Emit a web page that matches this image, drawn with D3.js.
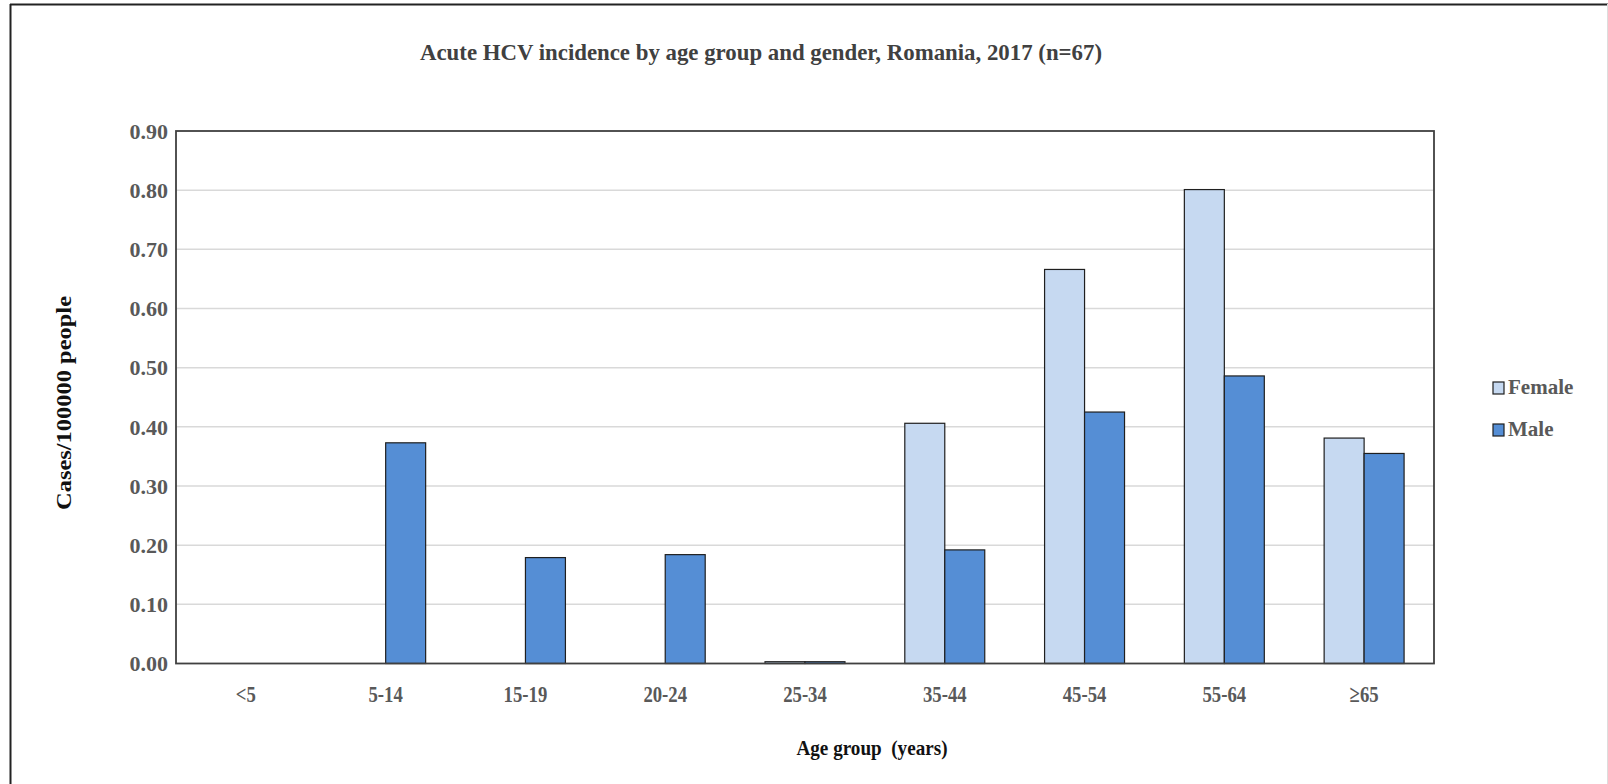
<!DOCTYPE html>
<html>
<head>
<meta charset="utf-8">
<script src="https://cdn.jsdelivr.net/npm/d3@7"></script>
<style>
  html, body { margin: 0; padding: 0; background: #fff; }
  svg { display: block; }
  text { font-family: "Liberation Serif", "Times New Roman", serif; }
</style>
</head>
<body>
<svg id="chart" width="1608" height="784"></svg>
<script>
// Age groups on the x axis
const ageGroups = ["<5", "5-14", "15-19", "20-24", "25-34", "35-44", "45-54", "55-64", "\u226565"];
// Incidence per 100000 people
const female = [0, 0, 0, 0, 0.003, 0.406, 0.666, 0.801, 0.381];
const male   = [0, 0.373, 0.179, 0.184, 0.003, 0.192, 0.425, 0.486, 0.355];
const seriesNames = ["Female", "Male"];
const yTicks = [0, 0.1, 0.2, 0.3, 0.4, 0.5, 0.6, 0.7, 0.8, 0.9];

const colors = { Female: "#c6d9f1", Male: "#558ed5" };

const svg = d3.select("#chart");
const W = 1608, H = 784;
const plot = { left: 176, right: 1434, top: 131, bottom: 663.5 };

// outer frame lines
svg.append("line").attr("x1", 10).attr("x2", W).attr("y1", 4.5).attr("y2", 4.5)
  .attr("stroke", "#222").attr("stroke-width", 2);
svg.append("line").attr("x1", 10.5).attr("x2", 10.5).attr("y1", 4).attr("y2", H)
  .attr("stroke", "#222").attr("stroke-width", 2);
svg.append("line").attr("x1", W - 0.5).attr("x2", W - 0.5).attr("y1", 4).attr("y2", H)
  .attr("stroke", "#ddd").attr("stroke-width", 1);

const x0 = d3.scaleBand().domain(ageGroups)
  .range([plot.left, plot.right]).paddingInner(0.428).paddingOuter(0.214);
const x1 = d3.scaleBand().domain(seriesNames).range([0, x0.bandwidth()]);
const y = d3.scaleLinear().domain([0, 0.9]).range([plot.bottom, plot.top]);

// gridlines
svg.append("g")
  .selectAll("line").data(yTicks.slice(1, -1)).join("line")
  .attr("x1", plot.left).attr("x2", plot.right)
  .attr("y1", d => y(d)).attr("y2", d => y(d))
  .attr("stroke", "#d9d9d9").attr("stroke-width", 1.5);

// y tick labels
const yAxis = svg.append("g").attr("transform", `translate(${plot.left - 8},0)`)
  .call(d3.axisLeft(y).tickValues(yTicks).tickFormat(d3.format(".2f")).tickSize(0).tickPadding(0));
yAxis.select(".domain").remove();
yAxis.selectAll("text")
  .attr("font-family", "Liberation Serif").attr("font-weight", "bold")
  .attr("font-size", 22).attr("fill", "#595959").attr("dy", "0.33em");

// bars
const rows = ageGroups.map((g, i) => ({ group: g, values: [
  { key: "Female", value: female[i] }, { key: "Male", value: male[i] }] }));

svg.append("g").selectAll("g").data(rows).join("g")
  .attr("transform", d => `translate(${x0(d.group)},0)`)
  .selectAll("rect").data(d => d.values.filter(v => v.value > 0)).join("rect")
  .attr("x", d => x1(d.key))
  .attr("width", x1.bandwidth())
  .attr("y", d => y(d.value))
  .attr("height", d => Math.max(1.5, y(0) - y(d.value)))
  .attr("fill", d => colors[d.key])
  .attr("stroke", "#1f1f1f").attr("stroke-width", 1.2);

// plot border
svg.append("rect")
  .attr("x", plot.left).attr("y", plot.top)
  .attr("width", plot.right - plot.left).attr("height", plot.bottom - plot.top)
  .attr("fill", "none").attr("stroke", "#404040").attr("stroke-width", 1.8);

// x axis labels (condensed)
const xAxis = svg.append("g").attr("transform", `translate(0,${plot.bottom})`)
  .call(d3.axisBottom(x0).tickSize(0).tickPadding(0));
xAxis.select(".domain").remove();
xAxis.selectAll("text")
  .attr("font-family", "Liberation Serif").attr("font-weight", "bold")
  .attr("font-size", 24).attr("fill", "#595959")
  .attr("y", 0).attr("dy", 0)
  .attr("transform", "translate(0,38.5) scale(0.78,1)");

// title
svg.append("text")
  .attr("x", 761).attr("y", 60).attr("text-anchor", "middle")
  .attr("font-size", 24).attr("font-weight", "bold").attr("fill", "#404040")
  .attr("textLength", 682).attr("lengthAdjust", "spacingAndGlyphs")
  .text("Acute HCV incidence by age group and gender, Romania, 2017 (n=67)");

// axis titles
svg.append("text")
  .attr("x", 872).attr("y", 755).attr("text-anchor", "middle")
  .attr("font-size", 22).attr("font-weight", "bold").attr("fill", "#111")
  .attr("textLength", 151).attr("lengthAdjust", "spacingAndGlyphs")
  .attr("xml:space", "preserve")
  .text("Age group  (years)");

svg.append("text")
  .attr("transform", "translate(71,403) rotate(-90)")
  .attr("text-anchor", "middle")
  .attr("font-size", 22).attr("font-weight", "bold").attr("fill", "#111")
  .attr("textLength", 214).attr("lengthAdjust", "spacingAndGlyphs")
  .text("Cases/100000 people");

// legend
const legend = svg.append("g").selectAll("g").data(seriesNames).join("g")
  .attr("transform", (d, i) => `translate(1493,${382 + i * 42})`);
legend.append("rect").attr("width", 11).attr("height", 12)
  .attr("fill", d => colors[d]).attr("stroke", "#1f1f1f").attr("stroke-width", 1.2);
legend.append("text").attr("x", 15).attr("y", 12)
  .attr("font-size", 21).attr("font-weight", "bold").attr("fill", "#595959")
  .text(d => d);
</script>
</body>
</html>
